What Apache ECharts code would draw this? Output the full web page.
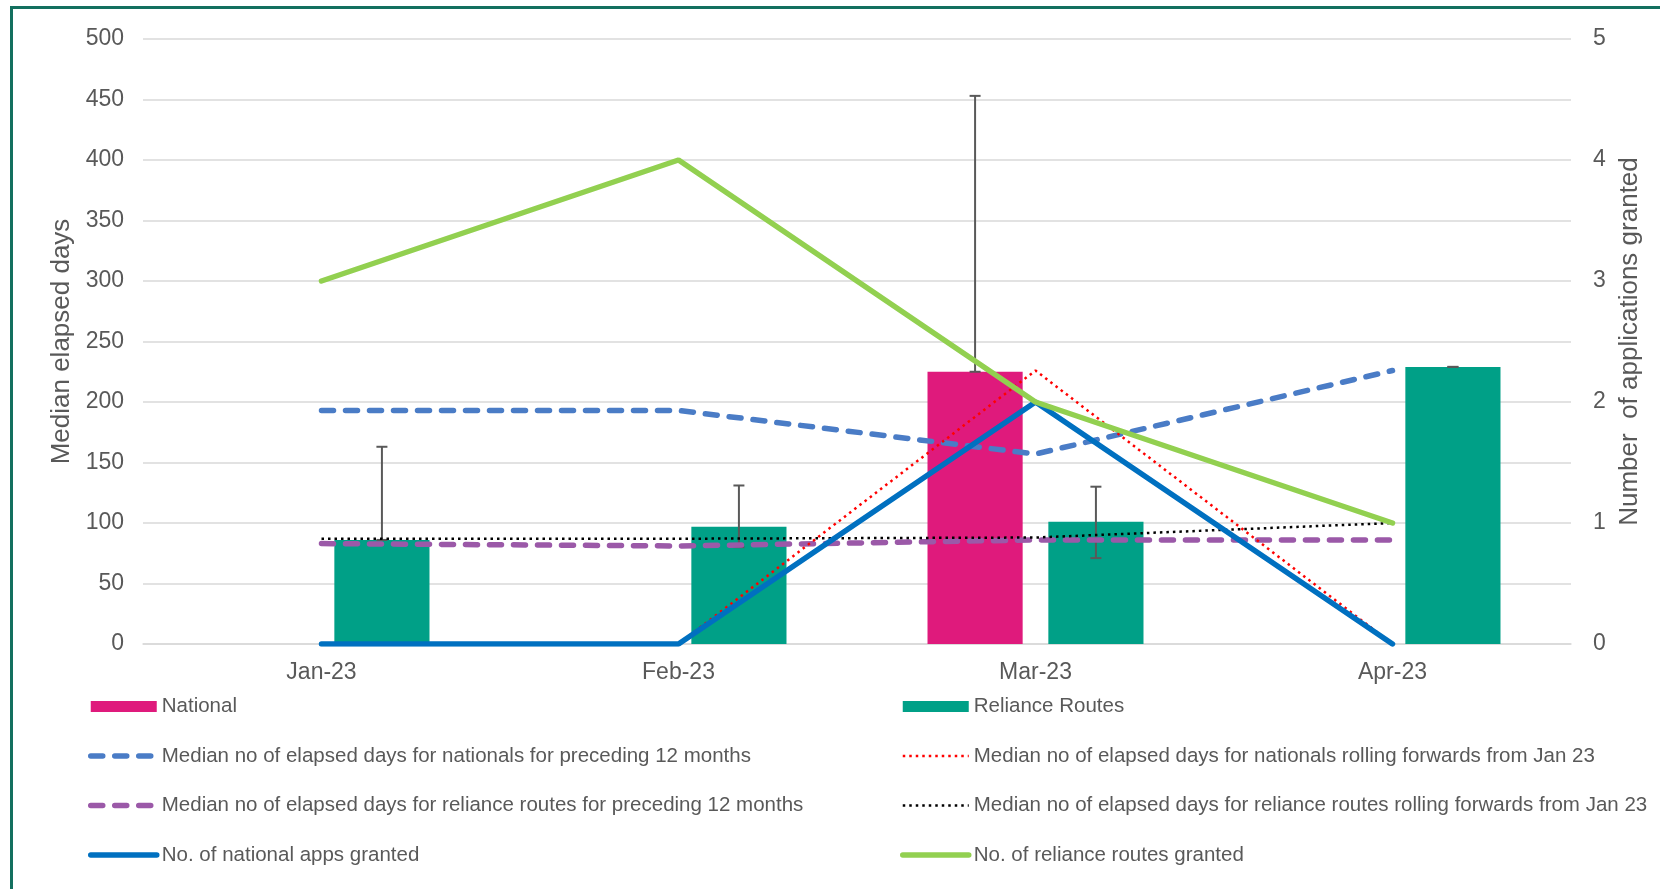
<!DOCTYPE html>
<html>
<head>
<meta charset="utf-8">
<script src="https://cdn.jsdelivr.net/npm/echarts@6/dist/echarts.min.js"></script>
<style>
  html, body { margin: 0; padding: 0; background: #fff; overflow: hidden; }
  .wrap { position: relative; width: 1660px; height: 889px; }
  .myChart { width: 1660px; height: 889px; }
  .frame {
    position: absolute; left: 10px; top: 6px; width: 1700px; height: 950px;
    border-left: 3px solid #13705f; border-top: 3px solid #13705f;
    pointer-events: none;
  }
</style>
</head>
<body>
<div class="wrap">
  <div class="myChart"></div>
  <div class="frame"></div>
</div>
<script>
  // values
  const categories = ['Jan-23', 'Feb-23', 'Mar-23', 'Apr-23']
  const nationalDays = [null, null, 225, null]
  const relianceDays = [86, 97, 101, 229]
  const nationalErrLow = [null, null, 225, null]
  const nationalErrHigh = [null, null, 453, null]
  const relianceErrLow = [86, 80, 71, 229]
  const relianceErrHigh = [163, 131, 130, 229]
  const nationalPrev12 = [193, 193, 157, 226]
  const reliancePrev12 = [83, 81, 86, 86]
  const nationalRolling = [0, 0, 226, 0]
  const relianceRolling = [87, 87, 88, 100]
  const nationalGranted = [0, 0, 2, 0]
  const relianceGranted = [3, 4, 2, 1]

  const CAT_GAP = 0.395
  const BAR_GAP = 0.27
  const FONT = '"Liberation Sans", Arial, sans-serif'
  const GREY = '#595959'

  const styles = {
    national: { color: '#df1a7c' },
    reliance: { color: '#00a087' },
    natPrev: { color: '#4a7cc6', width: 5.5, type: [12, 12], cap: 'round' },
    relPrev: { color: '#9b59a8', width: 5.5, type: [12, 12], cap: 'round' },
    natRoll: { color: '#ff0000', width: 2.5, type: [2.5, 4] },
    relRoll: { color: '#000000', width: 2.5, type: [2.5, 4] },
    natGranted: { color: '#0070c0', width: 5.5, cap: 'round' },
    relGranted: { color: '#92d050', width: 5.5, cap: 'round' }
  }

  const names = {
    national: 'National',
    reliance: 'Reliance Routes',
    natPrev: 'Median no of elapsed days for nationals for preceding 12 months',
    relPrev: 'Median no of elapsed days for reliance routes for preceding 12 months',
    natRoll: 'Median no of elapsed days for nationals rolling forwards from Jan 23',
    relRoll: 'Median no of elapsed days for reliance routes rolling forwards from Jan 23',
    natGranted: 'No. of national apps granted',
    relGranted: 'No. of reliance routes granted'
  }

  function errData (lo, hi) {
    let out = []
    lo.forEach((v, k) => {
      if (v != null && hi[k] != null) out.push([k, v, hi[k]])
    })
    return out
  }

  function errRender (side) {
    return function (params, api) {
      let idx = api.value(0)
      let band = api.size([1, 0])[0]
      let w = band * (1 - CAT_GAP) / (2 + BAR_GAP)
      let dx = side * (w / 2 + w * BAR_GAP / 2)
      let lo = api.coord([idx, api.value(1)])
      let hi = api.coord([idx, api.value(2)])
      let x = lo[0] + dx
      let cap = 5.5
      let style = { stroke: GREY, lineWidth: 2 }
      return {
        type: 'group',
        children: [
          { type: 'line', shape: { x1: x, y1: lo[1], x2: x, y2: hi[1] }, style: style },
          { type: 'line', shape: { x1: x - cap, y1: hi[1], x2: x + cap, y2: hi[1] }, style: style },
          { type: 'line', shape: { x1: x - cap, y1: lo[1], x2: x + cap, y2: lo[1] }, style: style }
        ]
      }
    }
  }

  function barLegend (key) {
    return { name: names[key], icon: 'rect' }
  }
  function lineLegend (key) {
    let s = styles[key]
    return {
      name: names[key],
      itemStyle: { color: 'rgba(0,0,0,0)', opacity: 0, borderWidth: 0 },
      lineStyle: { color: s.color, width: s.width, type: s.type || 'solid', cap: s.cap || 'butt' }
    }
  }

  function lineSeries (key, data, axis, z) {
    let s = styles[key]
    return {
      name: names[key],
      type: 'line',
      yAxisIndex: axis,
      data: data,
      symbol: 'none',
      itemStyle: { color: s.color },
      lineStyle: s,
      z: z
    }
  }

  const legendText = { color: GREY, fontSize: 20.5, fontFamily: FONT }

  let myChart = echarts.init(document.querySelector('.myChart'), null, { renderer: 'canvas' })
  myChart.setOption({
    animation: false,
    textStyle: { fontFamily: FONT },
    grid: { left: 143, right: 89, top: 39, bottom: 245 },
    legend: [{
      left: 88,
      top: 696,
      padding: 0,
      orient: 'vertical',
      itemWidth: 66,
      itemHeight: 11,
      itemGap: 28.5,
      textStyle: legendText,
      data: [barLegend('national'), lineLegend('natPrev'), lineLegend('relPrev'), lineLegend('natGranted')]
    }, {
      left: 900,
      top: 696,
      padding: 0,
      orient: 'vertical',
      itemWidth: 66,
      itemHeight: 11,
      itemGap: 28.5,
      textStyle: legendText,
      data: [barLegend('reliance'), lineLegend('natRoll'), lineLegend('relRoll'), lineLegend('relGranted')]
    }],
    xAxis: {
      type: 'category',
      data: categories,
      axisLine: { lineStyle: { color: '#d9d9d9', width: 1.5 } },
      axisTick: { show: false },
      axisLabel: { color: GREY, fontSize: 23, margin: 17 }
    },
    yAxis: [{
      type: 'value',
      min: 0,
      max: 500,
      interval: 50,
      name: 'Median elapsed days',
      nameLocation: 'middle',
      nameRotate: 90,
      nameGap: 67,
      nameTextStyle: { color: GREY, fontSize: 26 },
      axisLabel: { color: GREY, fontSize: 23, margin: 19 },
      axisLine: { show: false },
      axisTick: { show: false },
      splitLine: { lineStyle: { color: '#d9d9d9', width: 1.5 } }
    }, {
      type: 'value',
      min: 0,
      max: 5,
      interval: 1,
      position: 'right',
      name: 'Number  of applications granted',
      nameLocation: 'middle',
      nameRotate: 90,
      nameGap: 40,
      nameTextStyle: { color: GREY, fontSize: 26 },
      axisLabel: { color: GREY, fontSize: 23, margin: 22 },
      axisLine: { show: false },
      axisTick: { show: false },
      splitLine: { show: false }
    }],
    series: [{
      name: names.national,
      type: 'bar',
      data: nationalDays,
      barCategoryGap: (CAT_GAP * 100) + '%',
      barGap: (BAR_GAP * 100) + '%',
      itemStyle: styles.national,
      z: 1
    }, {
      name: names.reliance,
      type: 'bar',
      data: relianceDays,
      barCategoryGap: (CAT_GAP * 100) + '%',
      barGap: (BAR_GAP * 100) + '%',
      itemStyle: styles.reliance,
      z: 1
    }, {
      type: 'custom',
      renderItem: errRender(-1),
      data: errData(nationalErrLow, nationalErrHigh),
      z: 2
    }, {
      type: 'custom',
      renderItem: errRender(1),
      data: errData(relianceErrLow, relianceErrHigh),
      z: 2
    },
    lineSeries('natPrev', nationalPrev12, 0, 3),
    lineSeries('relPrev', reliancePrev12, 0, 3),
    lineSeries('natRoll', nationalRolling, 0, 3),
    lineSeries('relRoll', relianceRolling, 0, 3),
    lineSeries('natGranted', nationalGranted, 1, 4),
    lineSeries('relGranted', relianceGranted, 1, 4)
    ]
  })
</script>
</body>
</html>
